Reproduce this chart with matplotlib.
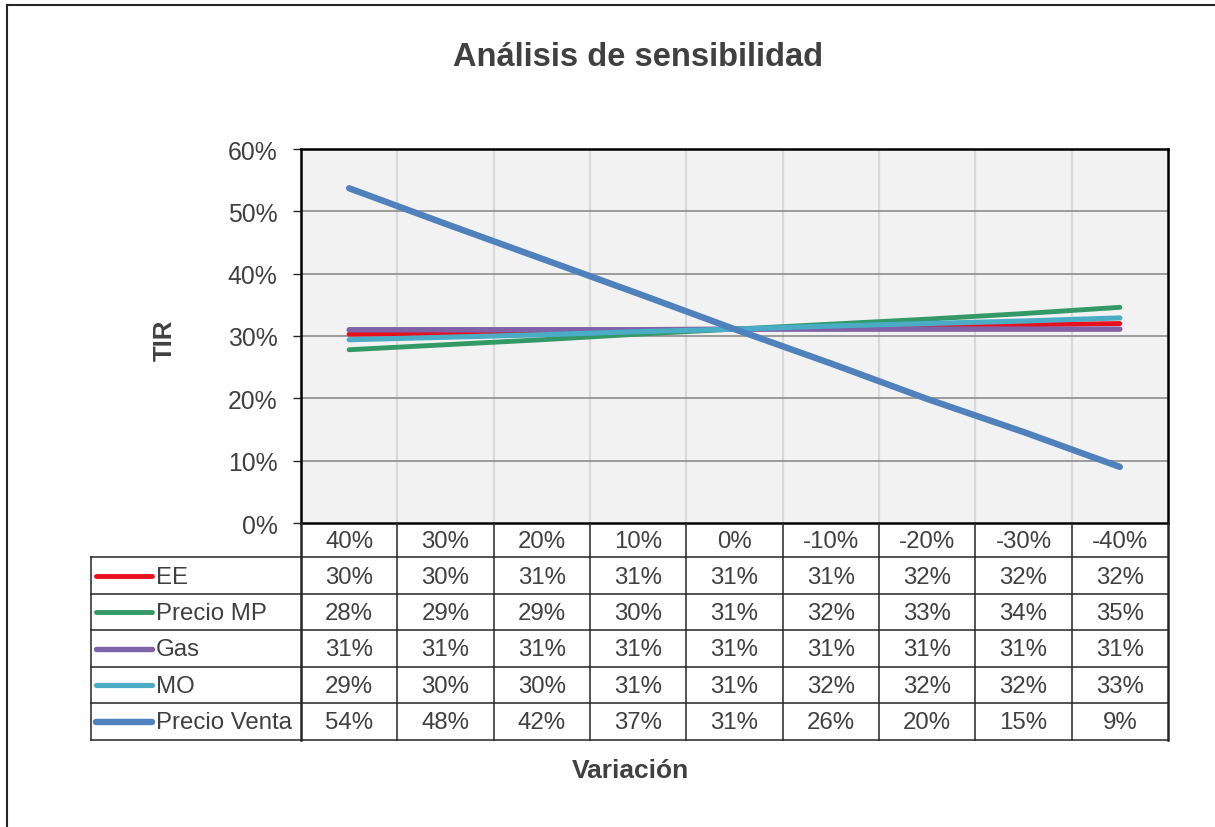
import matplotlib.pyplot as plt
from matplotlib.lines import Line2D
from matplotlib.ticker import PercentFormatter

plt.rcParams["font.family"] = ["Liberation Sans", "DejaVu Sans"]

# sensitivity of the IRR (TIR, %) to a change in each cost / price driver
VARIACION = ["40%", "30%", "20%", "10%", "0%", "-10%", "-20%", "-30%", "-40%"]
SERIES = ["EE", "Precio MP", "Gas", "MO", "Precio Venta"]
COLORS = ["#e8101c", "#339966", "#7f62a8", "#4bacc6", "#4f81bd"]
WIDTHS = [3.5, 3.5, 3.9, 3.7, 4.6]

EE = [30.3, 30.4, 30.6, 30.9, 31.1, 31.3, 31.6, 31.8, 32.0]
PRECIO_MP = [27.8, 28.6, 29.4, 30.3, 31.1, 31.9, 32.7, 33.6, 34.6]
GAS = [31.0, 31.0, 31.0, 31.0, 31.1, 31.1, 31.1, 31.1, 31.1]
MO = [29.4, 29.8, 30.2, 30.7, 31.1, 31.6, 32.0, 32.4, 32.9]
PRECIO_VENTA = [53.7, 48.0, 42.4, 36.8, 31.1, 25.6, 19.9, 14.6, 9.0]
TIR = [EE, PRECIO_MP, GAS, MO, PRECIO_VENTA]

W, H = 1215, 828
TEXT = "#404040"
EDGE = "#262626"
FS = 17.3


def fx(px):
    return px / W


def fy(py):
    return 1 - py / H


fig = plt.figure(figsize=(W / 100, H / 100), dpi=100)

# outer chart frame (left and top edges only)
fig.add_artist(Line2D([fx(7), fx(7)], [fy(6), 0], color=EDGE, lw=1.5))
fig.add_artist(Line2D([fx(7), 1], [fy(6), fy(6)], color=EDGE, lw=1.5))

# --- plot area ---
PL, PR, PT, PB = 301, 1168, 150, 524
ax = fig.add_axes([fx(PL), fy(PB), fx(PR) - fx(PL), fy(PT) - fy(PB)])
ax.set_facecolor("#f2f2f2")
n = len(VARIACION)
for vals, color, lw in zip(TIR, COLORS, WIDTHS):
    ax.plot(range(n), [v / 100 for v in vals], color=color, lw=lw,
            solid_capstyle="round", zorder=3)
ax.set_xlim(-0.5, n - 0.5)
ax.set_ylim(0, 0.6)
ax.set_yticks([i / 10 for i in range(7)])
ax.yaxis.set_major_formatter(PercentFormatter(1.0, decimals=0))
ax.tick_params(axis="y", length=6, width=1, color=EDGE, pad=11,
               labelsize=17.8, labelcolor=TEXT)
ax.set_xticks([])
for k in range(1, 6):
    ax.axhline(k / 10, color="#8c8c8c", lw=1.2, zorder=1)
for k in range(1, n):
    ax.axvline(k - 0.5, color="#d9d9d9", lw=1.6, zorder=0.5)
for side in ["left", "right", "top", "bottom"]:
    ax.spines[side].set_color("black")
    ax.spines[side].set_linewidth(1.8)

# --- data table under the plot ---
TL, TB = 91, 741
colw = (PR - PL) / n
tab = fig.add_axes([fx(TL), fy(TB), fx(PR) - fx(TL), fy(PB) - fy(TB)])
x_left = -0.5 - (PL - TL) / colw
tab.set_xlim(x_left, n - 0.5)
tab.set_ylim(TB - PB, 0)
tab.axis("off")

rows = [0, 34, 71, 107, 144, 180, 217]
for r in rows[1:]:
    tab.plot([x_left, n - 0.5], [r, r], color=EDGE, lw=1.1, clip_on=False)
tab.plot([x_left, x_left], [rows[1], rows[-1]], color=EDGE, lw=1.1,
         clip_on=False)
for k in range(n + 1):
    tab.plot([k - 0.5, k - 0.5], [rows[0], rows[-1]], color=EDGE,
             lw=1.8 if k in (0, n) else 1.1, clip_on=False)

for i, lab in enumerate(VARIACION):
    tab.text(i, (rows[0] + rows[1]) / 2 + 1, lab, ha="center", va="center",
             fontsize=FS, color=TEXT)

key_x0 = -0.5 - (PL - 96) / colw
key_x1 = -0.5 - (PL - 152) / colw
txt_x = -0.5 - (PL - 156) / colw
for j, (name, vals, color, lw) in enumerate(zip(SERIES, TIR, COLORS, WIDTHS)):
    yc = (rows[j + 1] + rows[j + 2]) / 2
    tab.plot([key_x0, key_x1], [yc, yc], color=color, lw=lw,
             solid_capstyle="round")
    tab.text(txt_x, yc + 1, name, ha="left", va="center", fontsize=FS,
             color=TEXT)
    for i, v in enumerate(vals):
        tab.text(i, yc + 1, f"{v:.0f}%", ha="center", va="center",
                 fontsize=FS, color=TEXT)

# titles
fig.text(fx(638), fy(66), "Análisis de sensibilidad", ha="center",
         va="baseline", fontsize=23.5, fontweight="bold", color=TEXT)
fig.text(fx(165), fy(340), "TIR", ha="center", va="center", rotation=90,
         fontsize=18.5, fontweight="bold", color=TEXT)
fig.text(fx(630), fy(778), "Variación", ha="center", va="baseline",
         fontsize=19, fontweight="bold", color=TEXT)

fig.savefig("out.png", dpi=100, facecolor="white")
